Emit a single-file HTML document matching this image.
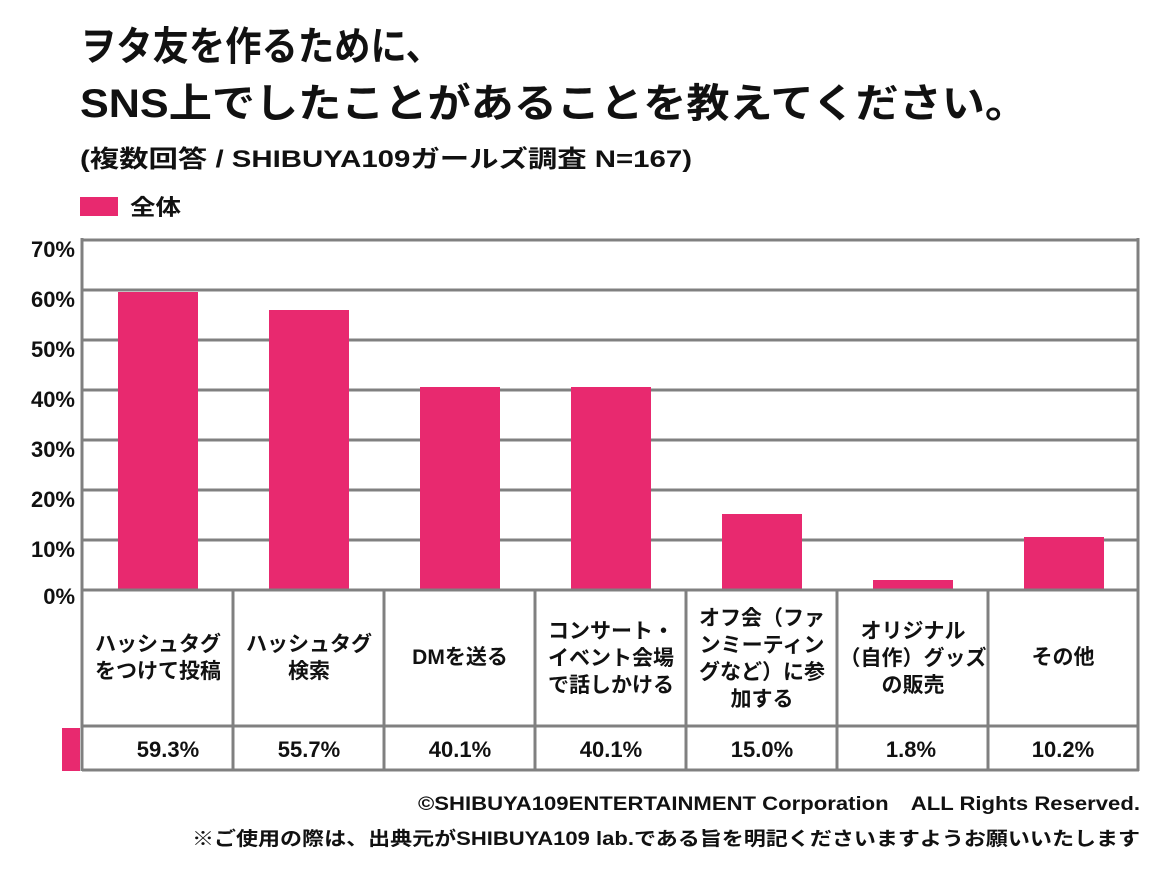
<!DOCTYPE html>
<html><head><meta charset="utf-8"><style>
body{margin:0;background:#fff;}
svg text{font-family:"Liberation Sans","Noto Sans CJK JP",sans-serif;font-weight:bold;fill:#111;}
</style></head><body>
<svg width="1160" height="870" viewBox="0 0 1160 870" xmlns="http://www.w3.org/2000/svg">
<text x="80" y="60" font-size="40" textLength="362" lengthAdjust="spacingAndGlyphs">ヲタ友を作るために、</text>
<text x="80" y="117" font-size="40" textLength="948" lengthAdjust="spacingAndGlyphs">SNS上でしたことがあることを教えてください。</text>
<text x="80" y="167" font-size="24" textLength="612" lengthAdjust="spacingAndGlyphs">(複数回答 / SHIBUYA109ガールズ調査 N=167)</text>
<rect x="80" y="197" width="38" height="19" fill="#e8296f"/>
<text x="130" y="215" font-size="22" textLength="51" lengthAdjust="spacingAndGlyphs">全体</text>
<g stroke="#808080" stroke-width="3">
<line x1="82" y1="240" x2="1139" y2="240"/>
<line x1="82" y1="290" x2="1139" y2="290"/>
<line x1="82" y1="340" x2="1139" y2="340"/>
<line x1="82" y1="390" x2="1139" y2="390"/>
<line x1="82" y1="440" x2="1139" y2="440"/>
<line x1="82" y1="490" x2="1139" y2="490"/>
<line x1="82" y1="540" x2="1139" y2="540"/>
</g>
<g fill="#e8296f">
<rect x="118" y="292" width="80" height="298"/>
<rect x="269" y="310" width="80" height="280"/>
<rect x="420" y="387" width="80" height="203"/>
<rect x="571" y="387" width="80" height="203"/>
<rect x="722" y="514" width="80" height="76"/>
<rect x="873" y="580" width="80" height="10"/>
<rect x="1024" y="537" width="80" height="53"/>
<rect x="62" y="728" width="18" height="43"/>
</g>
<g stroke="#808080" stroke-width="3" fill="none">
<line x1="82" y1="590" x2="1139" y2="590"/>
<line x1="82" y1="726" x2="1139" y2="726"/>
<line x1="82" y1="770" x2="1139" y2="770"/>
<line x1="82" y1="238" x2="82" y2="771"/>
<line x1="233" y1="590" x2="233" y2="771"/>
<line x1="384" y1="590" x2="384" y2="771"/>
<line x1="535" y1="590" x2="535" y2="771"/>
<line x1="686" y1="590" x2="686" y2="771"/>
<line x1="837" y1="590" x2="837" y2="771"/>
<line x1="988" y1="590" x2="988" y2="771"/>
<line x1="1138" y1="238" x2="1138" y2="771"/>
</g>
<g font-size="22" text-anchor="end">
<text x="75" y="257">70%</text><text x="75" y="307">60%</text><text x="75" y="357">50%</text>
<text x="75" y="407">40%</text><text x="75" y="457">30%</text><text x="75" y="507">20%</text>
<text x="75" y="557">10%</text><text x="75" y="604">0%</text>
</g>
<g font-size="21" text-anchor="middle">
<text x="158" y="651">ハッシュタグ</text><text x="158" y="678">をつけて投稿</text>
<text x="309" y="651">ハッシュタグ</text><text x="309" y="678">検索</text>
<text x="460" y="664">DMを送る</text>
<text x="611" y="638">コンサート・</text><text x="611" y="665">イベント会場</text><text x="611" y="692">で話しかける</text>
<text x="762" y="625">オフ会（ファ</text><text x="762" y="652">ンミーティン</text><text x="762" y="679">グなど）に参</text><text x="762" y="706">加する</text>
<text x="913" y="638">オリジナル</text><text x="913" y="665">（自作）グッズ</text><text x="913" y="692">の販売</text>
<text x="1063" y="664">その他</text>
</g>
<g font-size="22" text-anchor="middle">
<text x="168" y="757">59.3%</text><text x="309" y="757">55.7%</text><text x="460" y="757">40.1%</text>
<text x="611" y="757">40.1%</text><text x="762" y="757">15.0%</text><text x="911" y="757">1.8%</text>
<text x="1063" y="757">10.2%</text>
</g>
<g font-size="19">
<text x="418" y="810" textLength="722" lengthAdjust="spacingAndGlyphs">©SHIBUYA109ENTERTAINMENT Corporation　ALL Rights Reserved.</text>
<text x="192" y="845" textLength="948" lengthAdjust="spacingAndGlyphs">※ご使用の際は、出典元がSHIBUYA109 lab.である旨を明記くださいますようお願いいたします</text>
</g>
</svg>
</body></html>
